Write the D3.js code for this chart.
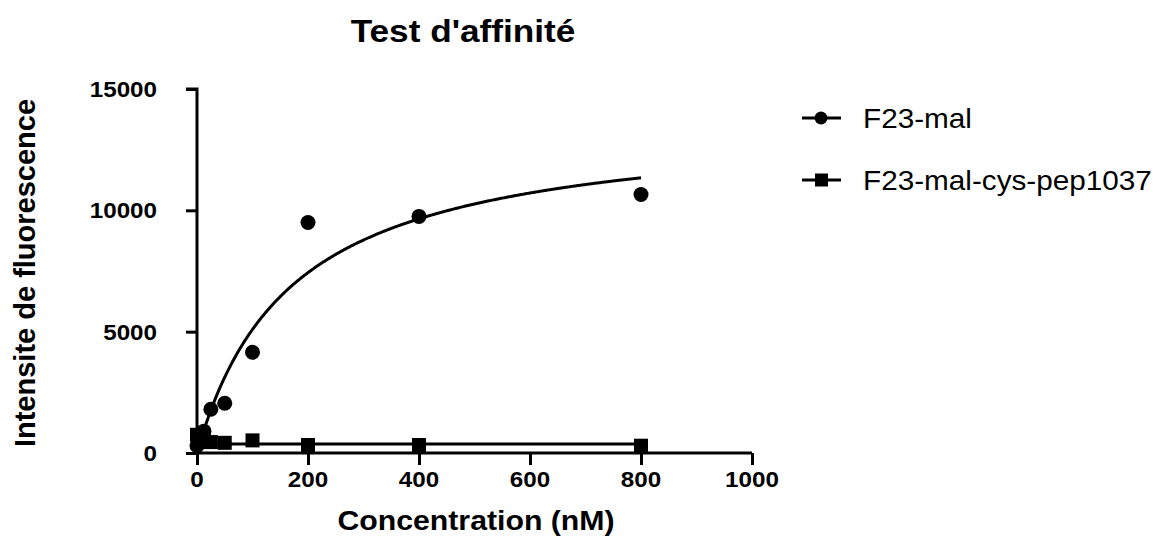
<!DOCTYPE html>
<html><head><meta charset="utf-8">
<script src="https://cdn.jsdelivr.net/npm/d3@7"></script>
<style>body{margin:0;background:#fff}svg{display:block}text{font-family:Arial,"Liberation Sans",sans-serif;fill:#000}</style>
</head><body><svg id="c" width="1158" height="536"></svg>
<script>
const title = "Test d'affinité";
const xTitle = "Concentration (nM)";
const yTitle = "Intensite de fluorescence";
const seriesNames = ["F23-mal", "F23-mal-cys-pep1037"];
const concentrations = [0, 6.25, 12.5, 25, 50, 100, 200, 400, 800];
const malValues = [300, 450, 900, 1800, 2050, 4150, 9500, 9750, 10650];
const pepValues = [750, 700, 650, 450, 420, 520, 330, 330, 300];
const xTicks = [0, 200, 400, 600, 800, 1000];
const yTicks = [0, 5000, 10000, 15000];
// one-site binding fit parameters (Bmax, Kd)
const fitMal = [13750, 170];
const fitPep = [370, 0.3];

const svg = d3.select("#c");
const x = d3.scaleLinear().domain([0, 1000]).range([197, 752]);
const y = d3.scaleLinear().domain([0, 15000]).range([453, 89]);
const SX = 1.1;

function hText(g, tx, ty, str, size, weight, anchor) {
  g.append("text").attr("transform", `translate(${tx},${ty}) scale(${SX},1)`)
    .attr("font-size", size).attr("font-weight", weight).attr("text-anchor", anchor).text(str);
}

// axes
const xAxis = svg.append("g").attr("transform", `translate(0,${y(0)})`)
  .call(d3.axisBottom(x).tickValues(xTicks).tickSize(12).tickFormat(""));
const yAxis = svg.append("g").attr("transform", `translate(${x(0)},0)`)
  .call(d3.axisLeft(y).tickValues(yTicks).tickSize(11).tickFormat(""));
[xAxis, yAxis].forEach(a => {
  a.selectAll("path").attr("stroke", "#000").attr("stroke-width", 3);
  a.selectAll("line").attr("stroke", "#000").attr("stroke-width", 3);
});
xAxis.select("path").attr("d", `M${x(0)},0H${x(1000)}`);
yAxis.select("path").attr("d", `M0,${y(0)}V${y(15000)}H-11`);

const labels = svg.append("g");
xTicks.forEach(t => hText(labels, x(t), 487, String(t), 22, "bold", "middle"));
yTicks.forEach(t => hText(labels, 157, y(t) + 8, String(t), 22, "bold", "end"));

hText(svg, 463, 42, title, 32, "bold", "middle");
hText(svg, 476, 530, xTitle, 27.5, "bold", "middle");
svg.append("text").attr("transform", `translate(35,${(y(0) + y(15000)) / 2 + 2}) rotate(-90)`)
  .attr("font-size", 29).attr("font-weight", "bold").attr("text-anchor", "middle").text(yTitle);

// fit curves
const xs = d3.range(0, 800.001, 2);
const line = d3.line().x(d => x(d[0])).y(d => y(d[1]));
const curve = p => xs.map(c => [c, p[0] * c / (p[1] + c)]);
svg.append("path").attr("d", line(curve(fitPep))).attr("fill", "none").attr("stroke", "#000").attr("stroke-width", 3);
svg.append("path").attr("d", line(curve(fitMal))).attr("fill", "none").attr("stroke", "#000").attr("stroke-width", 3);

// points
const sqSize = 14;
svg.append("g").selectAll("rect").data(concentrations).join("rect")
  .attr("x", (d) => x(d) - sqSize / 2).attr("y", (d, i) => y(pepValues[i]) - sqSize / 2)
  .attr("width", sqSize).attr("height", sqSize).attr("fill", "#000");
svg.append("g").selectAll("circle").data(concentrations).join("circle")
  .attr("cx", d => x(d)).attr("cy", (d, i) => y(malValues[i])).attr("r", 7.5).attr("fill", "#000");

// legend
const leg = svg.append("g");
const legY = [118, 180];
seriesNames.forEach((n, i) => {
  leg.append("line").attr("x1", 802).attr("x2", 841).attr("y1", legY[i]).attr("y2", legY[i])
    .attr("stroke", "#000").attr("stroke-width", 3);
  if (i === 0) leg.append("circle").attr("cx", 821).attr("cy", legY[i]).attr("r", 6.5).attr("fill", "#000");
  else leg.append("rect").attr("x", 815).attr("y", legY[i] - 6.5).attr("width", 13).attr("height", 13).attr("fill", "#000");
  hText(leg, 863, legY[i] + 9.5, n, 27, "normal", "start");
});
</script></body></html>
